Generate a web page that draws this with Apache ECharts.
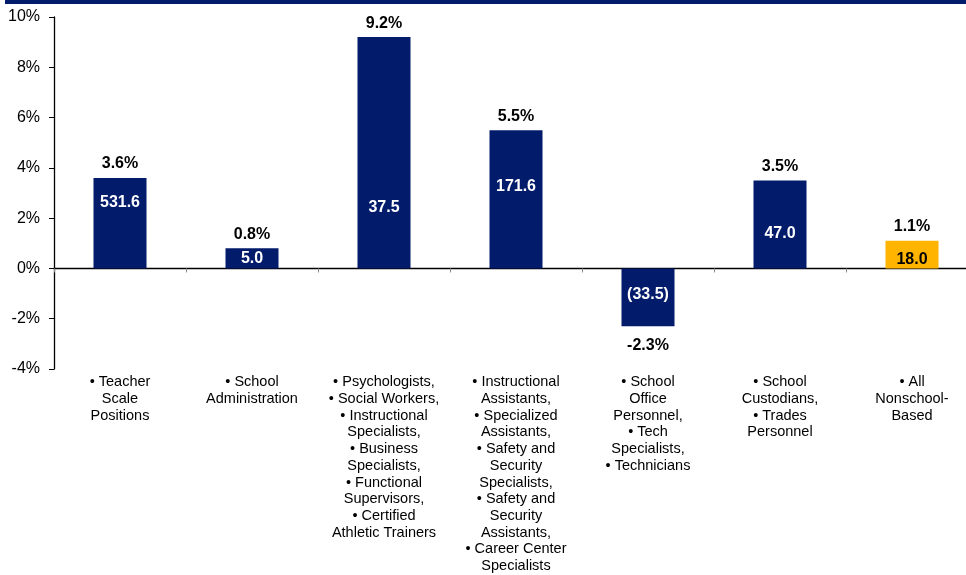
<!DOCTYPE html>
<html>
<head>
<meta charset="utf-8">
<script src="https://cdn.jsdelivr.net/npm/echarts@6/dist/echarts.min.js"></script>
<style>
html,body{margin:0;padding:0;background:#fff;overflow:hidden;width:966px;height:575px;}
#chart{width:978px;height:575px;}
</style>
</head>
<body>
<div id="chart"></div>
<script>
var categories = [
  "• Teacher\nScale\nPositions",
  "• School\nAdministration",
  "• Psychologists,\n• Social Workers,\n• Instructional\nSpecialists,\n• Business\nSpecialists,\n• Functional\nSupervisors,\n• Certified\nAthletic Trainers",
  "• Instructional\nAssistants,\n• Specialized\nAssistants,\n• Safety and\nSecurity\nSpecialists,\n• Safety and\nSecurity\nAssistants,\n• Career Center\nSpecialists",
  "• School\nOffice\nPersonnel,\n• Tech\nSpecialists,\n• Technicians",
  "• School\nCustodians,\n• Trades\nPersonnel",
  "• All\nNonschool-\nBased"
];
var pctChange = [3.6, 0.8, 9.2, 5.5, -2.3, 3.5, 1.1];
var positionCounts = ["531.6", "5.0", "37.5", "171.6", "(33.5)", "47.0", "18.0"];
var yTicks = { min: -4, max: 10, interval: 2 };

// styling (label lift inside bars, in px)
var innerLift = [58, 2, 53, 74, null, 27, 1];
var NAVY = '#021B6B';
var GOLD = '#FFB400';
var FONT = 'Liberation Sans, Arial, sans-serif';

var barColors = pctChange.map(function (v, i) { return i === pctChange.length - 1 ? GOLD : NAVY; });

var mainData = pctChange.map(function (v, i) {
  var d = { value: v, itemStyle: { color: barColors[i] } };
  if (v < 0) d.label = { distance: 11 };
  return d;
});
var innerData = pctChange.map(function (v, i) {
  var lab;
  if (v < 0) {
    lab = { show: true, position: 'inside', offset: [0, -3] };
  } else {
    lab = { show: true, position: 'insideBottom', distance: innerLift[i] };
  }
  lab.color = barColors[i] === GOLD ? '#000' : '#fff';
  return { value: v, label: lab };
});

var chart = echarts.init(document.getElementById('chart'), null, { renderer: 'canvas' });
chart.setOption({
  animation: false,
  backgroundColor: '#fff',
  textStyle: { fontFamily: FONT },
  grid: { left: 54, top: 17, right: 0, bottom: 206, containLabel: false },
  graphic: [{
    type: 'rect', left: 5, top: 0,
    shape: { width: 973, height: 4 },
    style: { fill: NAVY }
  }],
  xAxis: [{
    type: 'category',
    data: categories,
    position: 'bottom',
    axisLine: { show: false, onZero: false },
    axisTick: { show: false },
    axisLabel: {
      interval: 0, margin: 5, fontSize: 14.5, lineHeight: 16.7,
      color: '#000', fontFamily: FONT, align: 'center'
    }
  }, {
    type: 'category',
    data: categories,
    position: 'top',
    axisLine: { show: true, onZero: true, lineStyle: { color: '#000', width: 1.3 } },
    axisTick: { show: true, inside: true, length: 4, lineStyle: { color: '#888' } },
    axisLabel: { show: false }
  }],
  yAxis: {
    type: 'value',
    min: yTicks.min, max: yTicks.max, interval: yTicks.interval,
    axisLine: { show: true, onZero: false, lineStyle: { color: '#000', width: 1.3 } },
    axisTick: { show: true, length: 5, lineStyle: { color: '#000' } },
    splitLine: { show: false },
    axisLabel: {
      margin: 14, fontSize: 16, color: '#000', fontFamily: FONT,
      formatter: function (v) { return v + '%'; }
    }
  },
  series: [{
    type: 'bar',
    xAxisIndex: 0,
    data: mainData,
    barWidth: 53,
    label: {
      show: true, position: 'outside', distance: 6,
      fontSize: 16, fontWeight: 'bold', color: '#000', fontFamily: FONT,
      formatter: function (p) { return p.value.toFixed(1) + '%'; }
    }
  }, {
    type: 'bar',
    xAxisIndex: 0,
    data: innerData,
    barWidth: 53,
    barGap: '-100%',
    itemStyle: { color: 'rgba(0,0,0,0)' },
    z: 5,
    label: {
      show: true, fontSize: 16, fontWeight: 'bold', fontFamily: FONT,
      formatter: function (p) { return positionCounts[p.dataIndex]; }
    }
  }]
});
</script>
</body>
</html>
